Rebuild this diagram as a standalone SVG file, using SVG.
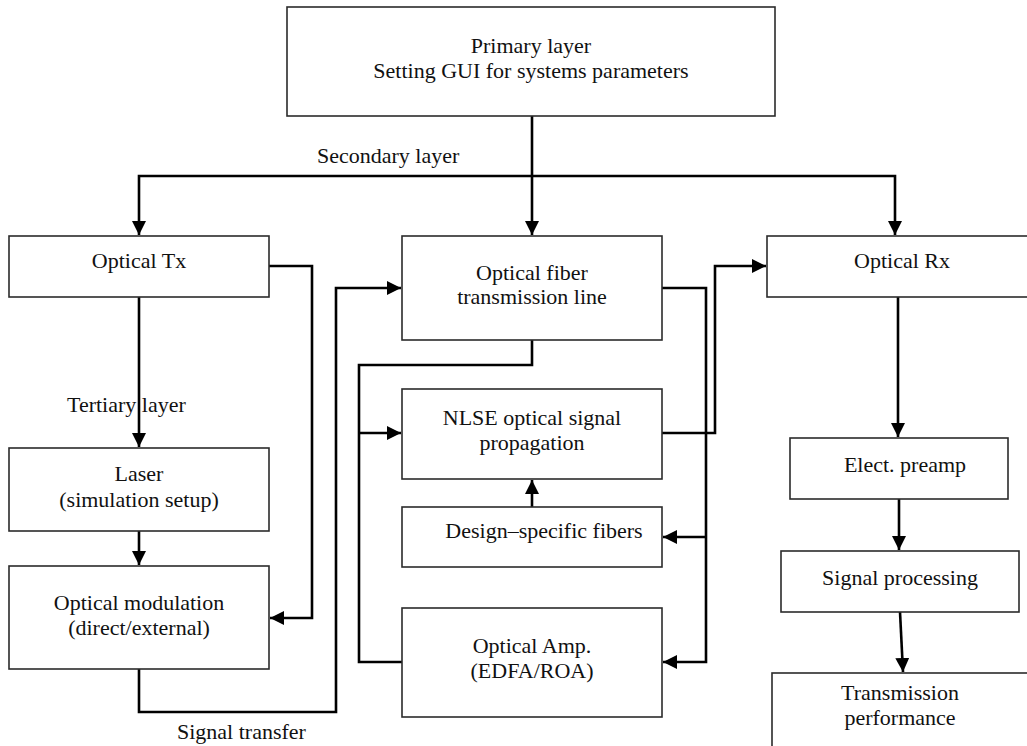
<svg xmlns="http://www.w3.org/2000/svg" width="1027" height="746" viewBox="0 0 1027 746">
  <style>
    .box { fill: #ffffff; stroke: #2b2b2b; stroke-width: 1.6; }
    .lbl { font-family: "Liberation Serif", "Times New Roman", serif; font-size: 22px; fill: #111111; text-anchor: middle; }
    .note { font-family: "Liberation Serif", "Times New Roman", serif; font-size: 22px; fill: #111111; }
    .wire { fill: none; stroke: #000000; stroke-width: 2.6; stroke-linejoin: miter; }
  </style>
  <defs>
    <marker id="arrow" markerUnits="userSpaceOnUse" markerWidth="15" markerHeight="15" refX="14" refY="7" orient="auto">
      <path d="M0,0 L14,7 L0,14 Z" fill="#000000"/>
    </marker>
  </defs>
  <rect width="1027" height="746" fill="#ffffff"/>

  <!-- connectors -->
  <g id="connectors">
    <path class="wire" d="M532,116 V235" marker-end="url(#arrow)"/>
    <path class="wire" d="M532,176 H139 V235" marker-end="url(#arrow)"/>
    <path class="wire" d="M532,176 H895 V235" marker-end="url(#arrow)"/>
    <path class="wire" d="M139,297 V447" marker-end="url(#arrow)"/>
    <path class="wire" d="M139,531 V565" marker-end="url(#arrow)"/>
    <path class="wire" d="M269,266 H312 V618 H270" marker-end="url(#arrow)"/>
    <path class="wire" d="M139,669 V712 H336 V288 H401" marker-end="url(#arrow)"/>
    <path class="wire" d="M532,340 V365 H359 V662 H402"/>
    <path class="wire" d="M359,433 H401" marker-end="url(#arrow)"/>
    <path class="wire" d="M532,507 V480" marker-end="url(#arrow)"/>
    <path class="wire" d="M662,288 H706 V662 H663" marker-end="url(#arrow)"/>
    <path class="wire" d="M706,537 H663" marker-end="url(#arrow)"/>
    <path class="wire" d="M662,433 H715 V266 H766" marker-end="url(#arrow)"/>
    <path class="wire" d="M898,297 V437" marker-end="url(#arrow)"/>
    <path class="wire" d="M899,499 V550" marker-end="url(#arrow)"/>
    <path class="wire" d="M900,612 L903,672" marker-end="url(#arrow)"/>
  </g>

  <!-- nodes -->
  <g id="primary">
    <rect class="box" x="287" y="7" width="488" height="109"/>
    <text class="lbl" x="531" y="53">Primary layer</text>
    <text class="lbl" x="531" y="78">Setting GUI for systems parameters</text>
  </g>
  <g id="optical-tx">
    <rect class="box" x="9" y="236" width="260" height="61"/>
    <text class="lbl" x="139" y="268">Optical Tx</text>
  </g>
  <g id="laser">
    <rect class="box" x="9" y="448" width="260" height="83"/>
    <text class="lbl" x="139" y="481">Laser</text>
    <text class="lbl" x="139" y="507">(simulation setup)</text>
  </g>
  <g id="modulation">
    <rect class="box" x="9" y="566" width="260" height="103"/>
    <text class="lbl" x="139" y="610">Optical modulation</text>
    <text class="lbl" x="139" y="635">(direct/external)</text>
  </g>
  <g id="fiber-line">
    <rect class="box" x="402" y="236" width="260" height="104"/>
    <text class="lbl" x="532" y="280">Optical fiber</text>
    <text class="lbl" x="532" y="304">transmission line</text>
  </g>
  <g id="nlse">
    <rect class="box" x="402" y="389" width="260" height="90"/>
    <text class="lbl" x="532" y="425">NLSE optical signal</text>
    <text class="lbl" x="532" y="450">propagation</text>
  </g>
  <g id="design-fibers">
    <rect class="box" x="402" y="507" width="260" height="60"/>
    <text class="lbl" x="544" y="538">Design–specific fibers</text>
  </g>
  <g id="optical-amp">
    <rect class="box" x="402" y="608" width="260" height="109"/>
    <text class="lbl" x="532" y="653">Optical Amp.</text>
    <text class="lbl" x="532" y="678">(EDFA/ROA)</text>
  </g>
  <g id="optical-rx">
    <rect class="box" x="767" y="236" width="270" height="61"/>
    <text class="lbl" x="902" y="268">Optical Rx</text>
  </g>
  <g id="preamp">
    <rect class="box" x="790" y="438" width="218" height="61"/>
    <text class="lbl" x="905" y="472">Elect. preamp</text>
  </g>
  <g id="signal-processing">
    <rect class="box" x="781" y="551" width="238" height="61"/>
    <text class="lbl" x="900" y="585">Signal processing</text>
  </g>
  <g id="performance">
    <rect class="box" x="772" y="673" width="270" height="90"/>
    <text class="lbl" x="900" y="700">Transmission</text>
    <text class="lbl" x="900" y="725">performance</text>
  </g>

  <!-- layer labels -->
  <g id="labels">
    <text class="note" x="317" y="163">Secondary layer</text>
    <text class="note" x="67" y="412">Tertiary layer</text>
    <text class="note" x="177" y="739">Signal transfer</text>
  </g>
</svg>
